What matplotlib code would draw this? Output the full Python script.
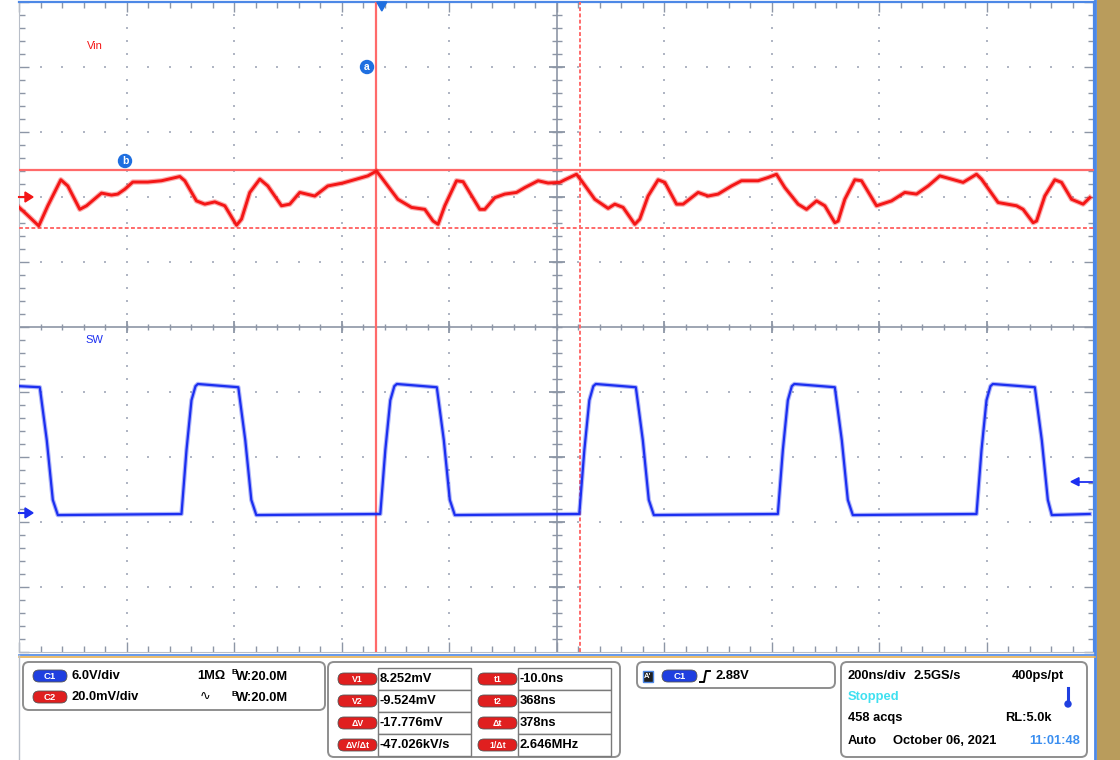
import matplotlib
matplotlib.use('Agg')
import matplotlib.pyplot as plt
import numpy as np
from matplotlib.patches import FancyBboxPatch, Rectangle, Circle, Polygon

# ---------------- data ----------------
# Vin (channel 2) : time in ns, ripple in mV
vin_t = [-675.4, -661.0, -638.2, -621.4, -597.2, -584.2, -561.9, -549.4, -521.5, -502.9,
         -491.2, -478.1, -463.3, -435.4, -409.9, -375.8, -366.5, -344.8, -329.3, -310.7,
         -292.1, -270.3, -261.0, -245.6, -227.0, -212.1, -186.6, -171.2, -152.6, -124.7,
         -100.5, -72.6, -47.1, -26.0, -9.9, -0.6, 29.8, 55.3, 80.0, 95.4,
         104.7, 117.2, 139.0, 151.3, 182.3, 191.6, 210.2, 228.8, 250.6, 266.1,
         290.8, 309.4, 331.2, 340.5, 362.2, 371.5, 396.3, 421.0, 433.5, 448.9,
         470.7, 480.0, 495.4, 514.1, 526.5, 548.3, 560.6, 588.5, 607.1, 625.7,
         650.6, 669.2, 700.1, 718.7, 734.3, 749.8, 774.5, 790.2, 808.8, 824.2,
         842.8, 848.9, 861.4, 880.0, 892.5, 920.4, 948.3, 973.0, 994.8, 1016.4,
         1038.2, 1059.9, 1081.5, 1106.4, 1115.7, 1146.6, 1180.9, 1193.1, 1211.7, 1218.1,
         1233.5, 1252.1, 1264.6, 1283.2, 1304.8, 1317.2]
vin_mv = [-3.1, -5.3, -8.9, -2.7, 5.3, 3.4, -3.8, -2.7, 1.2, 0.6,
          0.9, 2.4, 4.6, 4.6, 5.0, 6.3, 5.0, -1.2, -2.2, -1.5,
          -2.7, -8.7, -6.8, 1.4, 5.5, 3.4, -2.7, -2.2, 1.4, 0.3,
          3.4, 4.3, 5.5, 6.5, 8.0, 6.0, -0.7, -3.2, -3.8, -7.4,
          -8.4, -2.7, 5.0, 4.7, -3.8, -3.8, -0.2, 0.9, 1.4, 2.9,
          5.0, 4.3, 4.5, 5.3, 7.0, 5.0, -0.7, -3.5, -2.2, -3.2,
          -8.4, -6.8, 0.3, 5.3, 4.5, -2.2, -2.2, 1.4, 0.3, 0.9,
          3.4, 5.0, 5.0, 6.0, 7.0, 2.9, -2.2, -3.8, -1.2, -2.7,
          -7.9, -7.4, -0.7, 5.3, 5.0, -2.7, -1.2, 1.4, 0.9, 3.4,
          6.5, 5.5, 4.5, 7.0, 5.5, -1.7, -2.7, -3.8, -7.9, -7.4,
          0.3, 5.3, 4.5, -0.7, -2.2, -0.2]

# SW (channel 1) : time in ns, volts
sw_t = [-675.0, -636.3, -623.3, -612.1, -602.8,
        -372.7, -363.4, -354.1, -346.6, -342.3, -267.0, -254.0, -242.8, -233.5,
        -2.8, 6.5, 15.8, 23.3, 27.9, 102.3, 115.4, 126.5, 135.8,
        367.4, 376.8, 386.1, 393.5, 398.1, 472.6, 485.6, 496.7, 506.1,
        736.8, 746.1, 755.4, 762.8, 767.5, 842.8, 855.8, 867.0, 876.3,
        1106.4, 1115.7, 1125.0, 1132.4, 1136.8, 1214.9, 1227.9, 1239.1, 1246.5,
        1317.0]
sw_v = [11.7, 11.6, 6.7, 1.2, -0.2,
        -0.1, 5.8, 10.4, 11.7, 11.9, 11.6, 6.7, 1.2, -0.2,
        -0.1, 5.8, 10.4, 11.7, 11.9, 11.6, 6.7, 1.2, -0.2,
        -0.1, 5.8, 10.4, 11.7, 11.9, 11.6, 6.7, 1.2, -0.2,
        -0.1, 5.8, 10.4, 11.7, 11.9, 11.6, 6.7, 1.2, -0.2,
        -0.1, 5.8, 10.4, 11.7, 11.9, 11.6, 6.7, 1.2, -0.2,
        -0.1]

# scope settings
t_per_div = 200.0        # ns/div
t_left = -675.0          # ns at left edge
vin_scale = 20.0         # mV/div
vin_offset = 2.0         # div
sw_scale = 6.0           # V/div
sw_offset = -2.86        # div
cursor_t = [-10.0, 368.0]
cursor_v = [8.252, -9.524]
trig_level = 2.88

# bottom panel texts
ch_rows = [("C1", "6.0V/div", "1M\u03a9", "W:20.0M"), ("C2", "20.0mV/div", "\u223f", "W:20.0M")]
meas_left = [("V1", "8.252mV"), ("V2", "-9.524mV"), ("\u0394V", "-17.776mV"), ("\u0394V/\u0394t", "-47.026kV/s")]
meas_right = [("t1", "-10.0ns"), ("t2", "368ns"), ("\u0394t", "378ns"), ("1/\u0394t", "2.646MHz")]

RED = '#f41616'
BLUE = '#1c2ff0'
CUR = '#ff6a6a'
GRID = '#b0b6c4'
AXC = '#8d96a6'
FONT = ['Liberation Sans', 'DejaVu Sans']
FS = 9.3

fig = plt.figure(figsize=(11.2, 7.6), dpi=100)
fig.patch.set_facecolor('white')

W, H = 1120, 760
x0p, x1p, y0p, y1p = 19, 1094, 2, 652
ax = fig.add_axes([x0p / W, 1 - y1p / H, (x1p - x0p) / W, (y1p - y0p) / H])
t_right = t_left + 10 * t_per_div
ax.set_xlim(t_left, t_right)
ax.set_ylim(-5, 5)
ax.set_facecolor('white')

# ticks on the frame
ax.set_xticks([t_left + k * t_per_div for k in range(11)])
ax.set_xticks([t_left + k * t_per_div / 5 for k in range(51)], minor=True)
ax.set_yticks(range(-5, 6))
ax.set_yticks([-5 + k * 0.2 for k in range(51)], minor=True)
ax.tick_params(which='both', direction='in', top=True, right=True, bottom=True, left=True,
               labelbottom=False, labelleft=False, color=AXC, width=1)
ax.tick_params(which='major', length=7)
ax.tick_params(which='minor', length=4)
for s in ['left', 'bottom']:
    ax.spines[s].set_color('#b8bec8')
for s in ['top', 'right']:
    ax.spines[s].set_color('#4d88e6')
    ax.spines[s].set_linewidth(1.6)

# dotted grid
xm = [t_left + k * t_per_div for k in range(1, 10) if k != 5]
ym = [k for k in range(-4, 5) if k != 0]
ymin = [-5 + k * 0.2 for k in range(1, 50)]
xmin = [t_left + k * t_per_div / 5 for k in range(1, 50)]
for xv in xm:
    ax.plot([xv] * len(ymin), ymin, ls='none', marker='s', ms=1.5, mew=0, color=GRID, zorder=1)
for yv in ym:
    ax.plot(xmin, [yv] * len(xmin), ls='none', marker='s', ms=1.5, mew=0, color=GRID, zorder=1)

# center cross with ticks
tc = t_left + 5 * t_per_div
ax.axhline(0, color=AXC, lw=1.2, zorder=1)
ax.axvline(tc, color=AXC, lw=1.2, zorder=1)
ax.plot(xmin, [0] * len(xmin), ls='none', marker='|', ms=5, mew=1, color=AXC, zorder=1)
ax.plot(xm, [0] * len(xm), ls='none', marker='|', ms=9, mew=1.3, color=AXC, zorder=1)
ax.plot([tc] * len(ymin), ymin, ls='none', marker='_', ms=7, mew=1, color=AXC, zorder=1)
ax.plot([tc] * len(ym), ym, ls='none', marker='_', ms=11, mew=1.3, color=AXC, zorder=1)

# cursors
ax.axvline(cursor_t[0], color=CUR, lw=1.6, zorder=3)
ax.axvline(cursor_t[1], color=CUR, lw=1.4, ls=(0, (2, 1.2)), zorder=3)
ax.axhline(vin_offset + cursor_v[0] / vin_scale, color=CUR, lw=1.6, zorder=3)
ax.axhline(vin_offset + cursor_v[1] / vin_scale, color=CUR, lw=1.4, ls=(0, (2, 1.2)), zorder=3)

# traces
vin_y = [vin_offset + v / vin_scale for v in vin_mv]
sw_y = [sw_offset + v / sw_scale for v in sw_v]
ax.plot(vin_t, vin_y, color=RED, lw=3.8, alpha=0.35, zorder=4, solid_joinstyle='round')
ax.plot(vin_t, vin_y, color=RED, lw=2.1, zorder=5, solid_joinstyle='round')
ax.plot(sw_t, sw_y, color=BLUE, lw=3.2, alpha=0.35, zorder=4, solid_joinstyle='round')
ax.plot(sw_t, sw_y, color=BLUE, lw=1.6, zorder=5, solid_joinstyle='round')

# overlay in pixel coordinates
ov = fig.add_axes([0, 0, 1, 1], zorder=10)
ov.set_xlim(0, W)
ov.set_ylim(H, 0)
ov.axis('off')
ov.patch.set_alpha(0)

def tx(x, y, s, color='black', size=FS, weight='bold', ha='left', **kw):
    ov.text(x, y, s, color=color, fontsize=size, fontweight=weight, ha=ha, va='center',
            family=FONT, **kw)

def pill(x, y, w, h, color, label, size=6.8):
    ov.add_patch(FancyBboxPatch((x, y), w, h, boxstyle='round,pad=0,rounding_size=%g' % (h / 2),
                                fc=color, ec='#555555', lw=0.6))
    tx(x + w / 2, y + h / 2 + 0.5, label, color='white', size=size, ha='center')

def rbox(x, y, w, h):
    ov.add_patch(FancyBboxPatch((x, y), w, h, boxstyle='round,pad=0,rounding_size=6',
                                fc='white', ec='#8e8e8e', lw=1.4))

# plot labels and markers
tx(87, 46, 'Vin', color=RED, size=8, weight='normal')
tx(85, 340, 'SW', color=BLUE, size=8, weight='normal')
for (cx, cy, lab) in [(367, 67, 'a'), (125, 161, 'b')]:
    ov.add_patch(Circle((cx, cy), 6.5, color='#1f6fe0'))
    tx(cx, cy + 0.5, lab, color='white', size=7.5, ha='center')
trig_x = x0p + (0 - t_left) / t_per_div * (x1p - x0p) / 10
ov.add_patch(Polygon([[trig_x - 5, 2], [trig_x + 5, 2], [trig_x, 11]], color='#1f6fe0'))
# channel ground markers
vin_gnd = y0p + (5 - vin_offset) * (y1p - y0p) / 10
sw_gnd = y0p + (5 - sw_offset) * (y1p - y0p) / 10
ov.plot([19, 26], [vin_gnd, vin_gnd], color=RED, lw=1.5)
ov.add_patch(Polygon([[25, vin_gnd - 5], [25, vin_gnd + 5], [33, vin_gnd]], color=RED))
ov.plot([19, 26], [sw_gnd, sw_gnd], color=BLUE, lw=1.5)
ov.add_patch(Polygon([[25, sw_gnd - 5], [25, sw_gnd + 5], [33, sw_gnd]], color=BLUE))
trig_y = sw_gnd - trig_level / sw_scale * (y1p - y0p) / 10
ov.plot([1078, 1092], [trig_y, trig_y], color=BLUE, lw=1.3)
ov.add_patch(Polygon([[1071, trig_y], [1079, trig_y - 4], [1079, trig_y + 4]], color=BLUE))

# frame decorations
ov.add_patch(Rectangle((1097, 0), 23, 760, color='#b99c5c'))
ov.plot([1095, 1095], [0, 760], color='#4d88e6', lw=2)
ov.plot([19, 1095], [655, 655], color='#4d88e6', lw=1.2)
ov.plot([19, 1095], [657, 657], color='#e8b050', lw=1.2)
ov.plot([19, 19], [655, 760], color='#b8bec8', lw=1)

# box 1: channel settings
rbox(23, 662, 302, 48)
for i, (c, vd, mid, bw) in enumerate(ch_rows):
    yy = 676 + i * 21
    pill(33, yy - 6, 34, 12, '#1f3fe0' if c == 'C1' else '#e01f1f', c)
    tx(72, yy, vd)
    tx(197 if i == 0 else 200, yy, mid, weight='bold' if i == 0 else 'normal')
    tx(231, yy - 3, 'B', size=6)
    tx(236, yy + 1, bw)

# box 2: cursor measurements
rbox(328, 662, 292, 95)
row_edges = [668, 690, 712, 734, 756]
for i in range(4):
    ya, yb = row_edges[i], row_edges[i + 1]
    ym_ = (ya + yb) / 2
    pill(338, ym_ - 6, 39, 12, '#e01f1f', meas_left[i][0], size=6.3)
    ov.add_patch(Rectangle((378, ya), 93, yb - ya, fc='white', ec='#7a7a7a', lw=1))
    tx(380, ym_, meas_left[i][1])
    pill(478, ym_ - 6, 39, 12, '#e01f1f', meas_right[i][0], size=6.3)
    ov.add_patch(Rectangle((518, ya), 93, yb - ya, fc='white', ec='#7a7a7a', lw=1))
    tx(520, ym_, meas_right[i][1])

# box 3: trigger
rbox(637, 662, 198, 26)
ov.add_patch(Rectangle((643, 671), 10, 11, fc='#202020', ec='#4d88e6', lw=1))
tx(648, 676.5, "A'", color='white', size=5.5, ha='center')
pill(662, 670, 35, 12, '#1f3fe0', 'C1')
ov.plot([700, 704, 706, 710], [682, 682, 671, 671], color='black', lw=1.4)
tx(716, 676, '%.2fV' % trig_level)

# box 4: timebase
rbox(841, 662, 246, 95)
tx(848, 676, '200ns/div')
tx(913, 676, '2.5GS/s')
tx(1064, 676, '400ps/pt', ha='right')
tx(848, 697, 'Stopped', color='#3fe0f0')
ov.plot([1068, 1068], [688, 702], color='#1f3fe0', lw=2.2)
ov.add_patch(Circle((1068, 704), 3, color='#1f3fe0'))
tx(848, 718, '458 acqs')
tx(1005, 718, 'RL:5.0k')
tx(848, 741, 'Auto')
tx(893, 741, 'October 06, 2021')
tx(1080, 741, '11:01:48', color='#3a8ef0', ha='right')

fig.savefig('out.png', dpi=100, facecolor='white')
